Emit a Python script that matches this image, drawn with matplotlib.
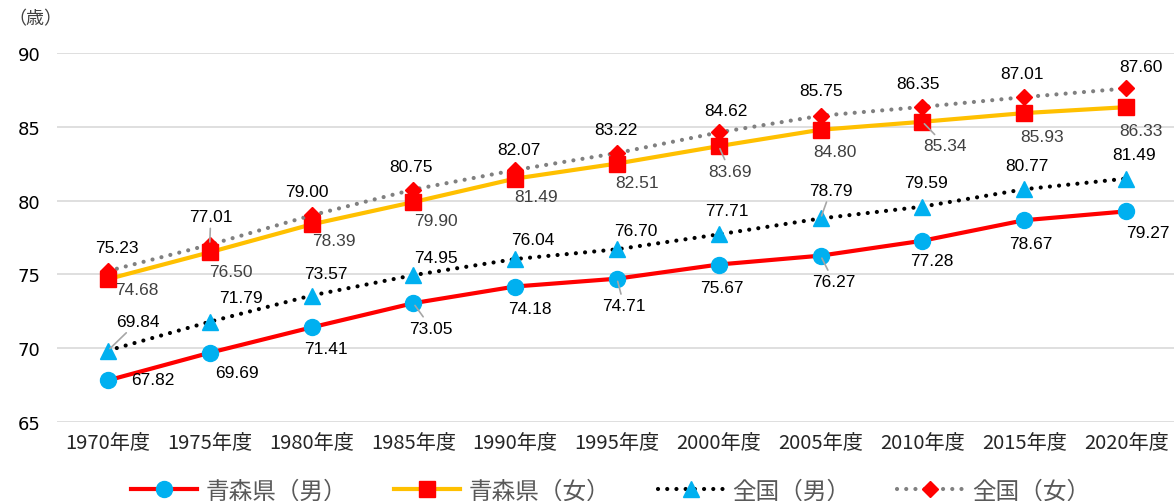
import matplotlib.pyplot as plt
from matplotlib.lines import Line2D

years = ["1970年度", "1975年度", "1980年度", "1985年度", "1990年度", "1995年度",
         "2000年度", "2005年度", "2010年度", "2015年度", "2020年度"]
aomori_m = [67.82, 69.69, 71.41, 73.05, 74.18, 74.71, 75.67, 76.27, 77.28, 78.67, 79.27]
aomori_f = [74.68, 76.50, 78.39, 79.90, 81.49, 82.51, 83.69, 84.80, 85.34, 85.93, 86.33]
japan_m = [69.84, 71.79, 73.57, 74.95, 76.04, 76.70, 77.71, 78.79, 79.59, 80.77, 81.49]
japan_f = [75.23, 77.01, 79.00, 80.75, 82.07, 83.22, 84.62, 85.75, 86.35, 87.01, 87.60]
legend_names = ["青森県（男）", "青森県（女）", "全国（男）", "全国（女）"]

# label offsets from the marker, in pixels (right, down)
off_am = [(45, -1), (27, 20), (14, 21), (18, 25), (15, 22), (7, 27), (3, 23), (13, 26), (9, 20), (7, 23), (22, 21)]
off_af = [(29, 10), (21, 19), (22, 16), (23, 18), (21, 18), (20, 19), (11, 25), (14, 22), (23, 24), (18, 23), (15, 23)]
off_jm = [(30, -29), (31, -24), (14, -22), (23, -18), (18, -20), (19, -19), (8, -24), (10, -28), (4, -24), (3, -24), (8, -24)]
off_jf = [(9, -24), (1, -28), (-5, -24), (-2, -23), (4, -21), (-1, -24), (7, -22), (0, -25), (-4, -23), (-2, -24), (15, -22)]
lead_am = [3, 5, 7]
lead_af = [6, 8]
lead_jm = [0, 7]
lead_jf = [1]

CJK = ["Noto Sans CJK JP", "DejaVu Sans"]
NUM = "Liberation Sans"

fig = plt.figure(figsize=(11.74, 5.02), dpi=100)
ax = fig.add_axes([57 / 1174, 1 - 423 / 502, 1120 / 1174, 369 / 502])

x = list(range(len(years)))
dot = (0, (0.01, 2.2))

ax.plot(x, aomori_m, color="#FF0000", lw=3, marker="o", ms=11.5,
        mfc="#00B0F0", mec="#00B0F0", zorder=3)
ax.plot(x, aomori_f, color="#FFC000", lw=3, marker="s", ms=11,
        mfc="#FF0000", mec="#FF0000", zorder=3)
ax.plot(x, japan_m, color="#000000", lw=3, ls=dot, dash_capstyle="round",
        marker="^", ms=12, mfc="#00B0F0", mec="#00B0F0", zorder=4)
ax.plot(x, japan_f, color="#808080", lw=3, ls=dot, dash_capstyle="round",
        marker="D", ms=8, mfc="#FF0000", mec="#FF0000", zorder=4)


def put_labels(vals, offs, leads, color):
    for i, v in enumerate(vals):
        dx, dy = offs[i]
        arrow = None
        if i in leads:
            arrow = dict(arrowstyle="-", color="#A6A6A6", lw=1.2, shrinkA=1, shrinkB=2)
        ax.annotate(f"{v:.2f}", xy=(i, v), xytext=(dx * 0.72, -dy * 0.72),
                    textcoords="offset points", ha="center", va="center",
                    fontsize=12.5, family=NUM, color=color, arrowprops=arrow,
                    zorder=6)


put_labels(aomori_m, off_am, lead_am, "#000000")
put_labels(aomori_f, off_af, lead_af, "#404040")
put_labels(japan_m, off_jm, lead_jm, "#000000")
put_labels(japan_f, off_jf, lead_jf, "#000000")

ax.set_xlim(-0.5, len(years) - 0.5)
ax.set_ylim(65, 90)
ax.set_yticks(range(65, 91, 5))
ax.grid(axis="y", color="#D9D9D9", lw=1.2)
ax.set_axisbelow(True)
for s in ax.spines.values():
    s.set_visible(False)
ax.tick_params(axis="both", length=0)
ax.tick_params(axis="y", pad=12)
ax.tick_params(axis="x", pad=7)
ax.set_xticks(x)
ax.set_xticklabels(years, family=CJK, fontsize=14.5, color="#262626")
for t in ax.get_yticklabels():
    t.set_family("DejaVu Sans")
    t.set_fontsize(13)
    t.set_color("#000000")

fig.text(8 / 1174, 1 - 19 / 502, "（歳）", family=CJK, fontsize=13,
         color="#404040", ha="left", va="center")

handles = [
    Line2D([], [], color="#FF0000", lw=3, marker="o", ms=11.5, mfc="#00B0F0", mec="#00B0F0"),
    Line2D([], [], color="#FFC000", lw=3, marker="s", ms=11, mfc="#FF0000", mec="#FF0000"),
    Line2D([], [], color="#000000", lw=3, ls=dot, dash_capstyle="round",
           marker="^", ms=12, mfc="#00B0F0", mec="#00B0F0"),
    Line2D([], [], color="#808080", lw=3, ls=dot, dash_capstyle="round",
           marker="D", ms=8, mfc="#FF0000", mec="#FF0000"),
]
leg = fig.legend(handles, legend_names, loc="lower center", bbox_to_anchor=(0.52, -0.045),
                 ncol=4, frameon=False, handlelength=2.8, handletextpad=0.35,
                 columnspacing=2.0, prop={"family": CJK, "size": 17})
for t in leg.get_texts():
    t.set_color("#595959")

fig.savefig("out.png", dpi=100)
